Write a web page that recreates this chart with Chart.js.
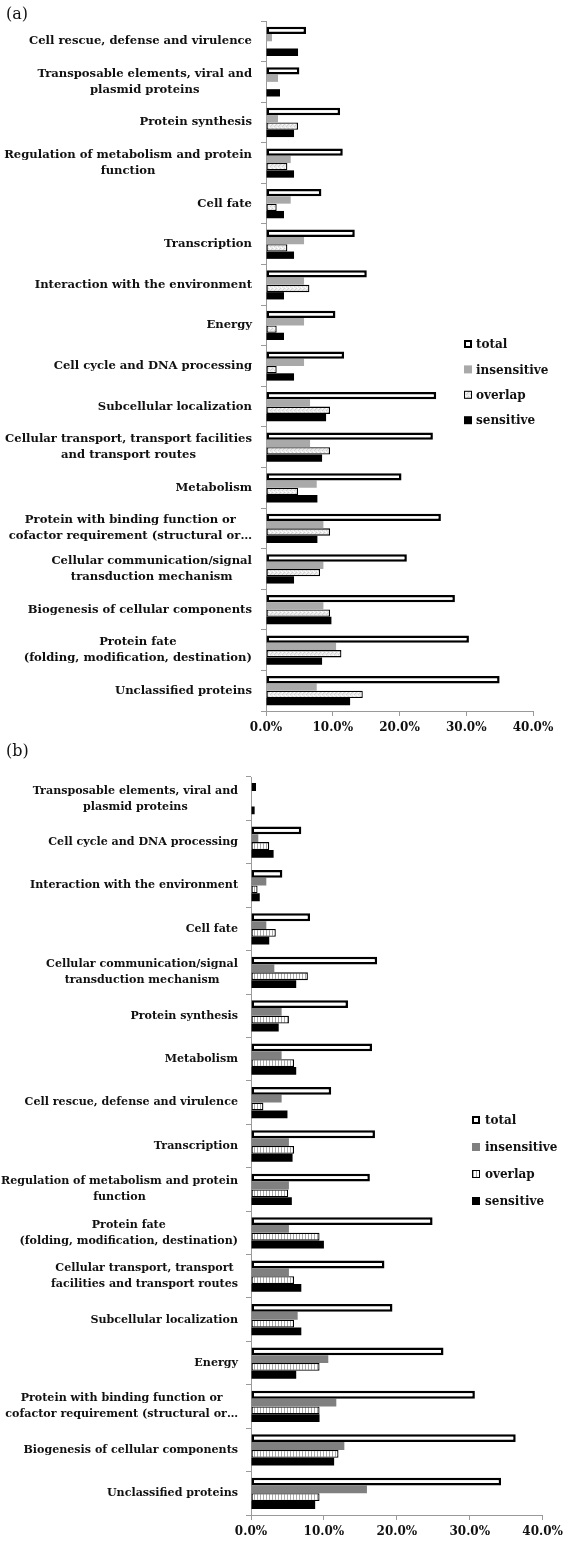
<!DOCTYPE html>
<html>
<head>
<meta charset="utf-8">
<script src="https://cdn.jsdelivr.net/npm/chart.js@4/dist/chart.umd.min.js"></script>
<style>
  html, body { margin: 0; padding: 0; background: #fff; }
  body { width: 568px; height: 1549px; position: relative; overflow: hidden; }
  .panel { position: absolute; left: 0; }
  .tag { position: absolute; left: 6px; font: 16px "DejaVu Serif", serif; color: #111; }
</style>
</head>
<body>
<div class="panel" style="top:0"><canvas id="chartA" width="568" height="745"></canvas></div>
<div class="panel" style="top:745px"><canvas id="chartB" width="568" height="804"></canvas></div>
<div class="tag" style="top:4px">(a)</div>
<div class="tag" style="top:741px">(b)</div>
<script>
// ---- panel (a): functional categories, share of genes (%) ----
const categoriesA = [
  'Cell rescue, defense and virulence',
  ['Transposable elements, viral and', 'plasmid proteins'],
  'Protein synthesis',
  ['Regulation of metabolism and protein', 'function'],
  'Cell fate',
  'Transcription',
  'Interaction with the environment',
  'Energy',
  'Cell cycle and DNA processing',
  'Subcellular localization',
  ['Cellular transport, transport facilities', 'and transport routes'],
  'Metabolism',
  ['Protein with binding function or', 'cofactor requirement (structural or\u2026'],
  ['Cellular communication/signal', 'transduction mechanism'],
  'Biogenesis of cellular components',
  ['Protein fate', '(folding, modification, destination)'],
  'Unclassified proteins'
];
const totalA       = [6.0, 5.0, 11.1, 11.5, 8.3, 13.3, 15.1, 10.4, 11.7, 25.5, 25.0, 20.3, 26.2, 21.1, 28.3, 30.4, 35.0];
const insensitiveA = [0.9, 1.8, 1.8, 3.7, 3.7, 5.7, 5.7, 5.7, 5.7, 6.6, 6.6, 7.6, 8.6, 8.6, 8.6, 10.5, 7.6];
const overlapA     = [0.0, 0.0, 4.8, 3.2, 1.6, 3.2, 6.5, 1.6, 1.6, 9.6, 9.6, 4.8, 9.6, 8.1, 9.6, 11.3, 14.5];
const sensitiveA   = [4.8, 2.1, 4.2, 4.2, 2.7, 4.2, 2.7, 2.7, 4.2, 9.0, 8.4, 7.7, 7.7, 4.2, 9.8, 8.4, 12.6];

// ---- panel (b) ----
const categoriesB = [
  ['Transposable elements, viral and', 'plasmid proteins'],
  'Cell cycle and DNA processing',
  'Interaction with the environment',
  'Cell fate',
  ['Cellular communication/signal', 'transduction mechanism'],
  'Protein synthesis',
  'Metabolism',
  'Cell rescue, defense and virulence',
  'Transcription',
  ['Regulation of metabolism and protein', 'function'],
  ['Protein fate', '(folding, modification, destination)'],
  ['Cellular transport, transport', 'facilities and transport routes'],
  'Subcellular localization',
  'Energy',
  ['Protein with binding function or', 'cofactor requirement (structural or\u2026'],
  'Biogenesis of cellular components',
  'Unclassified proteins'
];
const totalB       = [0.7, 6.9, 4.3, 8.1, 17.3, 13.3, 16.6, 11.0, 17.0, 16.3, 24.9, 18.3, 19.4, 26.4, 30.7, 36.3, 34.3];
const insensitiveB = [0.0, 1.0, 2.1, 2.1, 3.2, 4.2, 4.2, 4.2, 5.2, 5.2, 5.2, 5.2, 6.4, 10.6, 11.7, 12.8, 15.9];
const overlapB     = [0.0, 2.5, 0.9, 3.4, 7.8, 5.2, 5.9, 1.7, 5.9, 5.1, 9.4, 5.9, 5.9, 9.4, 9.4, 12.0, 9.4];
const sensitiveB   = [0.5, 3.1, 1.2, 2.5, 6.2, 3.8, 6.2, 5.0, 5.7, 5.6, 10.0, 6.9, 6.9, 6.2, 9.4, 11.4, 8.8];

const seriesNames = ['total', 'insensitive', 'overlap', 'sensitive'];
const axisTicks = [0, 10, 20, 30, 40];

// fill patterns for the "overlap" bars
function speckle() {
  const c = document.createElement('canvas');
  c.width = 4; c.height = 4;
  const g = c.getContext('2d');
  g.fillStyle = '#ebebeb'; g.fillRect(0, 0, 4, 4);
  g.fillStyle = '#d2d2d2'; g.fillRect(0, 0, 1, 1); g.fillRect(2, 2, 1, 1); g.fillRect(3, 1, 1, 1);
  g.fillStyle = '#ffffff'; g.fillRect(1, 3, 1, 1); g.fillRect(2, 0, 1, 1);
  return g.createPattern(c, 'repeat');
}
function stripes() {
  const c = document.createElement('canvas');
  c.width = 3; c.height = 2;
  const g = c.getContext('2d');
  g.fillStyle = '#ffffff'; g.fillRect(0, 0, 3, 2);
  g.fillStyle = '#a8a8a8'; g.fillRect(2, 0, 1, 2);
  return g.createPattern(c, 'repeat');
}

// category labels: block right-aligned against the axis, lines centred within it
const catLabels = {
  id: 'catLabels',
  afterDraw(chart, args, o) {
    const { ctx, chartArea } = chart;
    const y = chart.scales.y;
    ctx.save();
    ctx.font = o.font;
    ctx.fillStyle = o.color;
    ctx.textBaseline = 'middle';
    ctx.textAlign = 'center';
    chart.data.labels.forEach((lab, i) => {
      const lines = Array.isArray(lab) ? lab : [lab];
      const w = Math.max(...lines.map(l => ctx.measureText(l).width));
      const cx = chartArea.left - o.gap - w / 2;
      const cy = y.getPixelForTick(i);
      lines.forEach((l, k) => ctx.fillText(l, cx, cy + (k - (lines.length - 1) / 2) * o.lineHeight));
    });
    ctx.restore();
  }
};

// legend column drawn inside the plot
const boxLegend = {
  id: 'boxLegend',
  afterDraw(chart, args, o) {
    const ctx = chart.ctx;
    ctx.save();
    ctx.font = o.font;
    ctx.textBaseline = 'middle';
    ctx.textAlign = 'left';
    chart.data.datasets.forEach((ds, i) => {
      const cy = o.y + i * o.step;
      const s = 8;
      ctx.fillStyle = ds.backgroundColor;
      ctx.fillRect(o.x, cy - s / 2, s, s);
      if (ds.borderWidth) {
        ctx.lineWidth = ds.borderWidth > 2 ? 2 : 1;
        ctx.strokeStyle = ds.borderColor;
        const h = ctx.lineWidth / 2;
        ctx.strokeRect(o.x + h, cy - s / 2 + h, s - ctx.lineWidth, s - ctx.lineWidth);
      }
      ctx.fillStyle = '#111';
      ctx.fillText(ds.label, o.x + o.textGap, cy + 1);
    });
    ctx.restore();
  }
};

function makeChart(id, cfg) {
  const datasets = [
    { label: seriesNames[0], data: cfg.total, backgroundColor: '#ffffff', borderColor: '#000000', borderWidth: 2.5 },
    { label: seriesNames[1], data: cfg.insensitive, backgroundColor: cfg.grey, borderWidth: 0 },
    { label: seriesNames[2], data: cfg.overlap, backgroundColor: cfg.pattern, borderColor: '#000000', borderWidth: 1.3 },
    { label: seriesNames[3], data: cfg.sensitive, backgroundColor: '#000000', borderWidth: 0 }
  ];
  datasets.forEach(d => { d.borderSkipped = false; d.barPercentage = 1.0; d.categoryPercentage = 0.72; });
  return new Chart(document.getElementById(id), {
    type: 'bar',
    data: { labels: cfg.labels, datasets },
    options: {
      indexAxis: 'y',
      responsive: false,
      animation: false,
      devicePixelRatio: 1,
      layout: { padding: { left: 0, right: cfg.padRight, top: cfg.padTop, bottom: 0 } },
      plugins: {
        legend: { display: false },
        tooltip: { enabled: false },
        catLabels: { font: cfg.labelFont, color: '#111', gap: cfg.labelGap, lineHeight: cfg.lineHeight },
        boxLegend: { font: cfg.legendFont, x: cfg.legendX, y: cfg.legendY, step: cfg.legendStep, textGap: cfg.legendTextGap }
      },
      scales: {
        x: {
          min: 0, max: 40,
          afterBuildTicks: s => { s.ticks = axisTicks.map(v => ({ value: v })); },
          afterFit: s => { s.height = 34; },
          grid: { drawOnChartArea: false, drawTicks: true, tickLength: 5, color: '#9a9a9a', lineWidth: 1 },
          border: { color: '#9a9a9a', width: 1 },
          ticks: {
            padding: 5,
            color: '#111',
            font: { family: 'DejaVu Serif', weight: 'bold', size: 12 },
            callback: v => v.toFixed(1) + '%'
          }
        },
        y: {
          afterFit: s => { s.width = cfg.yWidth; },
          grid: { drawOnChartArea: false, drawTicks: true, tickLength: 5, color: '#9a9a9a', offset: true },
          border: { color: '#9a9a9a', width: 1 },
          ticks: { display: false }
        }
      }
    },
    plugins: [catLabels, boxLegend]
  });
}

makeChart('chartA', {
  labels: categoriesA, total: totalA, insensitive: insensitiveA, overlap: overlapA, sensitive: sensitiveA,
  grey: '#a9a9a9', pattern: speckle(),
  padTop: 21, padRight: 35, yWidth: 266,
  labelFont: 'bold 11.6px "DejaVu Serif"', labelGap: 14, lineHeight: 16,
  legendFont: 'bold 12px "DejaVu Serif"', legendX: 464, legendY: 344, legendStep: 25.4, legendTextGap: 12
});

makeChart('chartB', {
  labels: categoriesB, total: totalB, insensitive: insensitiveB, overlap: overlapB, sensitive: sensitiveB,
  grey: '#808080', pattern: stripes(),
  padTop: 32, padRight: 24, yWidth: 251,
  labelFont: 'bold 11.1px "DejaVu Serif"', labelGap: 13, lineHeight: 16,
  legendFont: 'bold 12px "DejaVu Serif"', legendX: 472, legendY: 375, legendStep: 27, legendTextGap: 13
});
</script>
</body>
</html>
